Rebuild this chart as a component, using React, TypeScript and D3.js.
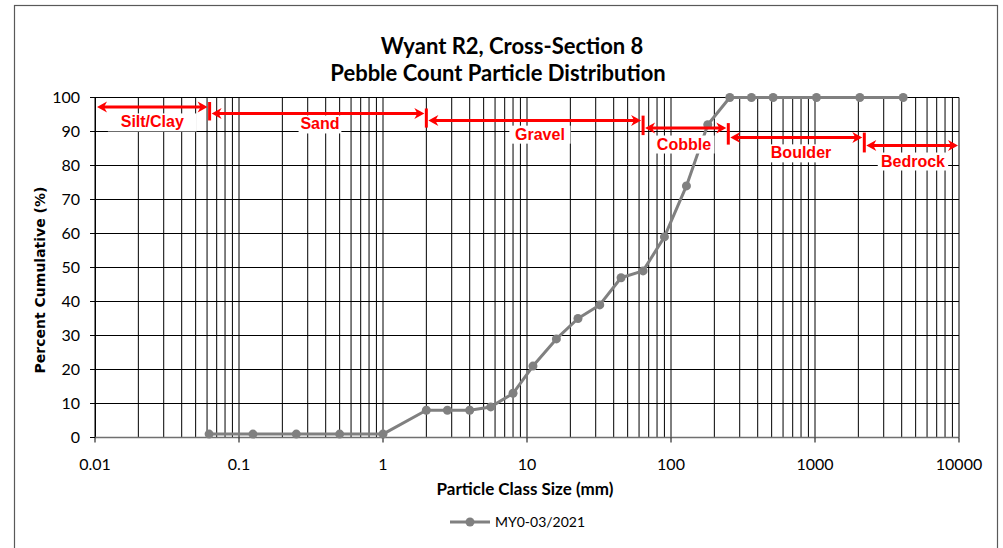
import React from 'react';
import * as d3 from 'd3';

const sizes = [0.062, 0.125, 0.25, 0.5, 1, 2, 2.8, 4, 5.6, 8, 11, 16, 22.6, 32, 45, 64, 90, 128, 180, 256, 362, 512, 1024, 2048, 4096];
const cumulative = [1, 1, 1, 1, 1, 8, 8, 8, 9, 13, 21, 29, 35, 39, 47, 49, 59, 74, 92, 100, 100, 100, 100, 100, 100];
const xTicks = [0.01, 0.1, 1, 10, 100, 1000, 10000];
const xTickLabels = ['0.01', '0.1', '1', '10', '100', '1000', '10000'];
const yTicks = [0, 10, 20, 30, 40, 50, 60, 70, 80, 90, 100];
const classNames = ['Silt/Clay', 'Sand', 'Gravel', 'Cobble', 'Boulder', 'Bedrock'];
const classBounds = [0.0625, 2, 64, 250, 2200];
const classArrowY = [97.2, 95.3, 93.2, 91.0, 88.2, 85.9];
const classLabelX = [0.025, 0.365, 12.3, 123, 800, 4790];
const classLabelY = [91.2, 90.6, 87.6, 84.7, 82.1, 79.7];
const seriesName = 'MY0-03/2021';

const W = 1003;
const H = 548;
const calibri = 'Lato, Carlito, Calibri, sans-serif';
const arial = '"Liberation Sans", Arial, sans-serif';

export default function App() {
  const x = d3.scaleLog().domain([0.01, 10000]).range([95, 959]);
  const y = d3.scaleLinear().domain([0, 100]).range([437.5, 97.5]);

  const minor: number[] = [];
  for (let e = -2; e <= 3; e++) {
    for (let k = 1; k <= 9; k++) minor.push(k * Math.pow(10, e));
  }
  minor.push(10000);

  const line = d3.line<number>().x((_, i) => x(sizes[i])).y((d) => y(d));

  const red = '#ff0000';
  const head = (px: number, py: number, dir: number) => {
    const L = 10, w = 5.5, n = 7;
    return `M${px},${py} L${px + dir * L},${py - w} L${px + dir * n},${py} L${px + dir * L},${py + w} Z`;
  };

  const arrows = classNames.map((name, i) => {
    const x0 = i === 0 ? x(0.01) + 2 : x(classBounds[i - 1]) + 2;
    const x1 = i === classNames.length - 1 ? x(10000) - 1 : x(classBounds[i]) - 2;
    const ay = y(classArrowY[i]);
    return { name, x0, x1, ay };
  });

  return (
    <svg width={W} height={H} style={{ position: 'absolute', left: 0, top: 0, background: '#fff' }}>
      <rect x={14.5} y={5.5} width={983} height={600} fill="#fff" stroke="#595959" strokeWidth={1.2} />
      <text x={512} y={54} textAnchor="middle" fontFamily={calibri} fontWeight="bold" fontSize={22} fill="#000">Wyant R2, Cross-Section 8</text>
      <text x={498} y={81} textAnchor="middle" fontFamily={calibri} fontWeight="bold" fontSize={22} fill="#000">Pebble Count Particle Distribution</text>

      {/* gridlines */}
      {yTicks.map((t) => (
        <line key={'h' + t} x1={x(0.01)} x2={x(10000)} y1={y(t)} y2={y(t)} stroke="#000" strokeWidth={1} />
      ))}
      {minor.map((m, i) => (
        <line key={'v' + i} x1={x(m)} x2={x(m)} y1={y(0)} y2={y(100)} stroke="#000" strokeWidth={1} />
      ))}

      {/* axes */}
      <line x1={95.5} x2={95.5} y1={y(100)} y2={y(0)} stroke="#000" strokeWidth={1} />
      <line x1={95} x2={959} y1={y(0)} y2={y(0)} stroke="#707070" strokeWidth={1.5} />
      {yTicks.map((t) => (
        <g key={'yt' + t}>
          <line x1={90} x2={95} y1={y(t)} y2={y(t)} stroke="#000" />
          <text x={80} y={y(t) + 5.5} textAnchor="end" fontFamily={calibri} fontSize={16} fill="#000">{t}</text>
        </g>
      ))}
      {xTicks.map((t, i) => (
        <g key={'xt' + t}>
          <line x1={x(t)} x2={x(t)} y1={y(0)} y2={y(0) + 5} stroke="#000" />
          <text x={x(t)} y={470} textAnchor="middle" fontFamily={calibri} fontSize={16} fill="#000">{xTickLabels[i]}</text>
        </g>
      ))}
      <text x={525} y={495} textAnchor="middle" fontFamily={calibri} fontWeight="bold" fontSize={17} fill="#000">Particle Class Size (mm)</text>
      <text transform="translate(45,280) rotate(-90)" textAnchor="middle" fontFamily='"DejaVu Sans", Verdana, sans-serif' fontWeight="bold" fontSize={14} fill="#000">Percent Cumulative (%)</text>

      {/* series */}
      <path d={line(cumulative) || ''} fill="none" stroke="#808080" strokeWidth={3} strokeLinejoin="round" />
      {cumulative.map((v, i) => (
        <circle key={'p' + i} cx={x(sizes[i])} cy={y(v)} r={4.5} fill="#808080" />
      ))}

      {/* class annotations */}
      {arrows.map((a, i) => {
        const lx = x(classLabelX[i]);
        const ly = y(classLabelY[i]);
        const tw = a.name.length * 9.2;
        return (
          <g key={'c' + i}>
            <rect x={lx - tw / 2 - 3} y={ly - 14} width={tw + 6} height={18} fill="#fff" />
            <text x={lx} y={ly} textAnchor="middle" fontFamily={arial} fontWeight="bold" fontSize={16} fill={red}>{a.name}</text>
          </g>
        );
      })}
      {arrows.map((a, i) => (
        <g key={'a' + i}>
          <line x1={a.x0 + 6} x2={a.x1 - 6} y1={a.ay} y2={a.ay} stroke={red} strokeWidth={3} />
          <path d={head(a.x0, a.ay, 1)} fill={red} />
          <path d={head(a.x1, a.ay, -1)} fill={red} />
        </g>
      ))}
      {classBounds.map((b, i) => (
        <line key={'b' + i} x1={x(b)} x2={x(b)} y1={y(classArrowY[i]) - 5} y2={y(classArrowY[i + 1]) + 7} stroke={red} strokeWidth={3} />
      ))}

      {/* legend */}
      <line x1={450} x2={490} y1={522} y2={522} stroke="#808080" strokeWidth={3} />
      <circle cx={470} cy={522} r={4.5} fill="#808080" />
      <text x={495} y={527} fontFamily={calibri} fontSize={14} fill="#000">{seriesName}</text>
    </svg>
  );
}
